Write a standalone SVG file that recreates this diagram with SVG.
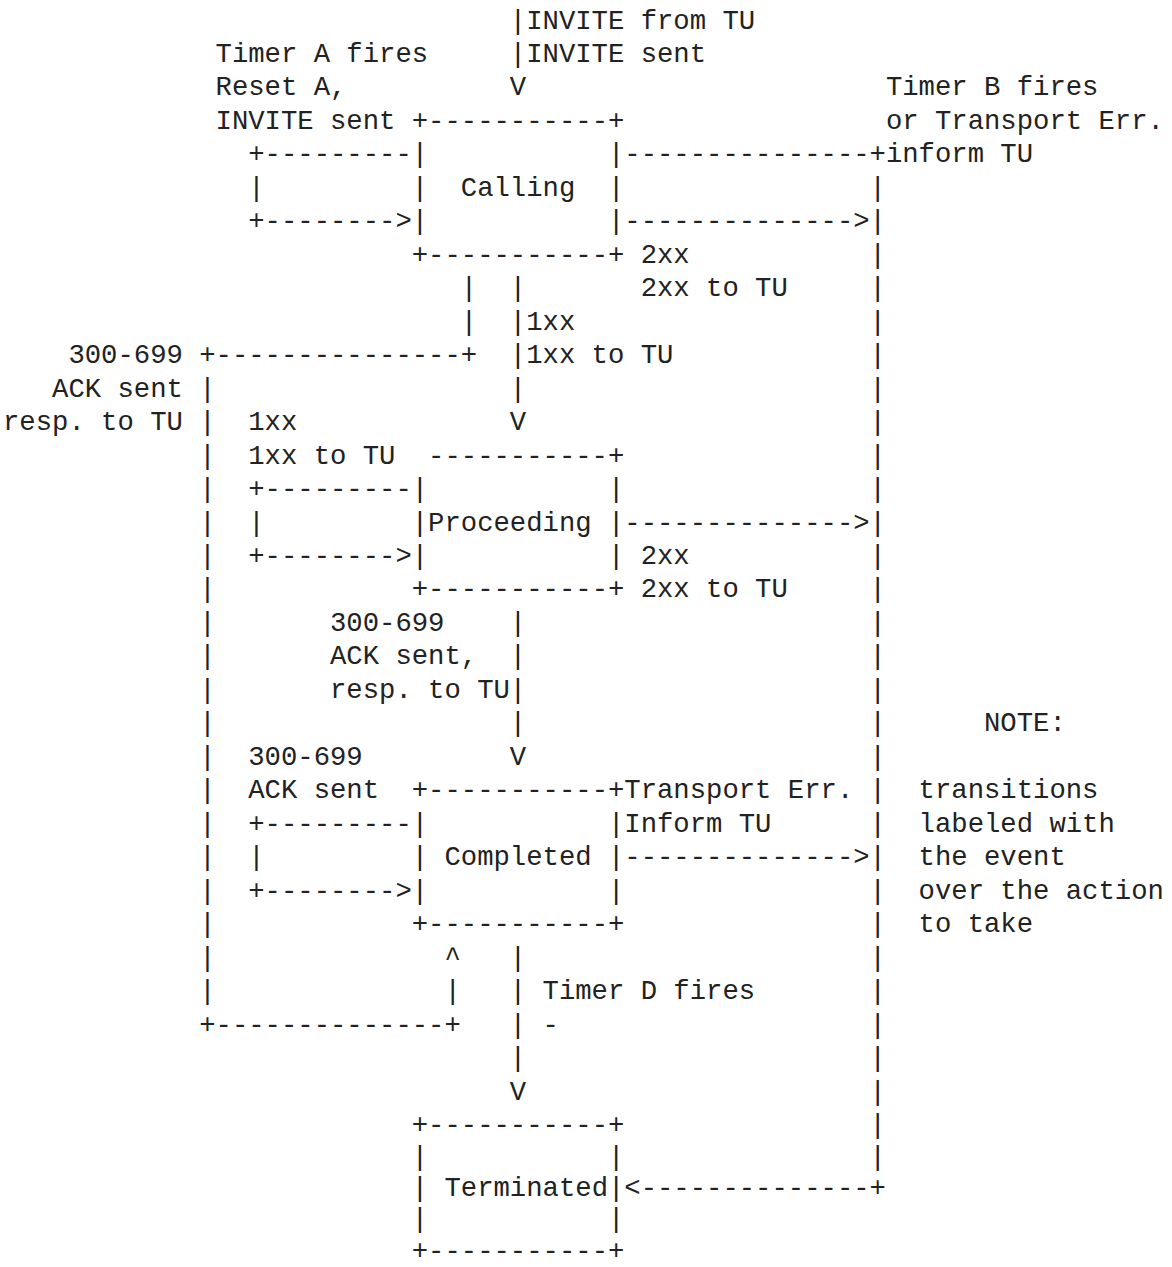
<svg xmlns="http://www.w3.org/2000/svg" width="1172" height="1267" viewBox="0 0 1172 1267" xml:space="preserve">
<style>
text{font-family:"Liberation Mono","Courier New",monospace;font-size:27.25px;fill:#222222;white-space:pre}
</style>
<rect width="1172" height="1267" fill="#ffffff"/>
<g id="node-calling">
<text><tspan x="411.75" y="128.91">+-----------+</tspan><tspan x="411.75" y="162.38">|           |</tspan><tspan x="411.75" y="195.85">|  Calling  |</tspan><tspan x="411.75" y="229.32">|           |</tspan><tspan x="411.75" y="262.79">+-----------+</tspan></text>
</g>
<g id="node-proceeding">
<text><tspan x="428.1" y="463.61">-----------+</tspan><tspan x="411.75" y="497.08">|           |</tspan><tspan x="411.75" y="530.55">|Proceeding |</tspan><tspan x="411.75" y="564.02">|           |</tspan><tspan x="411.75" y="597.49">+-----------+</tspan></text>
</g>
<g id="node-completed">
<text><tspan x="411.75" y="798.31">+-----------+</tspan><tspan x="411.75" y="831.78">|           |</tspan><tspan x="411.75" y="865.25">| Completed |</tspan><tspan x="411.75" y="898.72">|           |</tspan><tspan x="411.75" y="932.19">+-----------+</tspan></text>
</g>
<g id="node-terminated">
<text><tspan x="411.75" y="1133.01">+-----------+</tspan><tspan x="411.75" y="1165.2">|           |</tspan><tspan x="411.75" y="1196.3">| Terminated|</tspan><tspan x="411.75" y="1227.4">|           |</tspan><tspan x="411.75" y="1258.5">+-----------+</tspan></text>
</g>
<g id="connectors">
<text x="509.85" y="28.5">|</text>
<text x="509.85" y="61.97">|</text>
<text x="509.85" y="95.44">V</text>
<text x="248.25" y="162.38">+---------</text>
<text x="248.25" y="195.85">|</text>
<text x="248.25" y="229.32">+--------></text>
<text x="624.3" y="162.38">---------------+</text>
<text x="624.3" y="229.32">--------------></text>
<text x="869.55" y="195.85">|</text>
<text x="869.55" y="229.32">|</text>
<text x="869.55" y="262.79">|</text>
<text x="869.55" y="296.26">|</text>
<text x="869.55" y="329.73">|</text>
<text x="869.55" y="363.2">|</text>
<text x="869.55" y="396.67">|</text>
<text x="869.55" y="430.14">|</text>
<text x="869.55" y="463.61">|</text>
<text x="869.55" y="497.08">|</text>
<text x="869.55" y="530.55">|</text>
<text x="869.55" y="564.02">|</text>
<text x="869.55" y="597.49">|</text>
<text x="869.55" y="630.96">|</text>
<text x="869.55" y="664.43">|</text>
<text x="869.55" y="697.9">|</text>
<text x="869.55" y="731.37">|</text>
<text x="869.55" y="764.84">|</text>
<text x="869.55" y="798.31">|</text>
<text x="869.55" y="831.78">|</text>
<text x="869.55" y="865.25">|</text>
<text x="869.55" y="898.72">|</text>
<text x="869.55" y="932.19">|</text>
<text x="869.55" y="965.66">|</text>
<text x="869.55" y="999.13">|</text>
<text x="869.55" y="1032.6">|</text>
<text x="869.55" y="1066.07">|</text>
<text x="869.55" y="1099.54">|</text>
<text x="869.55" y="1133.01">|</text>
<text x="869.55" y="1165.2">|</text>
<text x="624.3" y="1196.3">&lt;--------------+</text>
<text x="509.85" y="296.26">|</text>
<text x="509.85" y="329.73">|</text>
<text x="509.85" y="363.2">|</text>
<text x="509.85" y="396.67">|</text>
<text x="509.85" y="430.14">V</text>
<text x="460.8" y="296.26">|</text>
<text x="460.8" y="329.73">|</text>
<text x="199.2" y="363.2">+---------------+</text>
<text x="199.2" y="396.67">|</text>
<text x="199.2" y="430.14">|</text>
<text x="199.2" y="463.61">|</text>
<text x="199.2" y="497.08">|</text>
<text x="199.2" y="530.55">|</text>
<text x="199.2" y="564.02">|</text>
<text x="199.2" y="597.49">|</text>
<text x="199.2" y="630.96">|</text>
<text x="199.2" y="664.43">|</text>
<text x="199.2" y="697.9">|</text>
<text x="199.2" y="731.37">|</text>
<text x="199.2" y="764.84">|</text>
<text x="199.2" y="798.31">|</text>
<text x="199.2" y="831.78">|</text>
<text x="199.2" y="865.25">|</text>
<text x="199.2" y="898.72">|</text>
<text x="199.2" y="932.19">|</text>
<text x="199.2" y="965.66">|</text>
<text x="199.2" y="999.13">|</text>
<text x="199.2" y="1032.6">+--------------+</text>
<text x="444.45" y="999.13">|</text>
<text x="444.45" y="965.66">^</text>
<text x="248.25" y="497.08">+---------</text>
<text x="248.25" y="530.55">|</text>
<text x="248.25" y="564.02">+--------></text>
<text x="624.3" y="530.55">--------------></text>
<text x="509.85" y="630.96">|</text>
<text x="509.85" y="664.43">|</text>
<text x="509.85" y="697.9">|</text>
<text x="509.85" y="731.37">|</text>
<text x="509.85" y="764.84">V</text>
<text x="248.25" y="831.78">+---------</text>
<text x="248.25" y="865.25">|</text>
<text x="248.25" y="898.72">+--------></text>
<text x="624.3" y="865.25">--------------></text>
<text x="509.85" y="965.66">|</text>
<text x="509.85" y="999.13">|</text>
<text x="509.85" y="1032.6">|</text>
<text x="509.85" y="1066.07">|</text>
<text x="509.85" y="1099.54">V</text>
</g>
<g id="labels">
<text x="526.2" y="28.5">INVITE from TU</text>
<text x="215.55" y="61.97">Timer A fires</text>
<text x="526.2" y="61.97">INVITE sent</text>
<text x="215.55" y="95.44">Reset A,</text>
<text x="885.9" y="95.44">Timer B fires</text>
<text x="215.55" y="128.91">INVITE sent</text>
<text x="885.9" y="128.91">or Transport Err.</text>
<text x="885.9" y="162.38">inform TU</text>
<text x="640.65" y="262.79">2xx</text>
<text x="640.65" y="296.26">2xx to TU</text>
<text x="526.2" y="329.73">1xx</text>
<text x="68.4" y="363.2">300-699</text>
<text x="526.2" y="363.2">1xx to TU</text>
<text x="52.05" y="396.67">ACK sent</text>
<text x="3" y="430.14">resp. to TU</text>
<text x="248.25" y="430.14">1xx</text>
<text x="248.25" y="463.61">1xx to TU</text>
<text x="640.65" y="564.02">2xx</text>
<text x="640.65" y="597.49">2xx to TU</text>
<text x="330" y="630.96">300-699</text>
<text x="330" y="664.43">ACK sent,</text>
<text x="330" y="697.9">resp. to TU</text>
<text x="984" y="731.37">NOTE:</text>
<text x="248.25" y="764.84">300-699</text>
<text x="248.25" y="798.31">ACK sent</text>
<text x="624.3" y="798.31">Transport Err.</text>
<text x="624.3" y="831.78">Inform TU</text>
<text x="918.6" y="798.31">transitions</text>
<text x="918.6" y="831.78">labeled with</text>
<text x="918.6" y="865.25">the event</text>
<text x="918.6" y="898.72">over the action</text>
<text x="918.6" y="932.19">to take</text>
<text x="542.55" y="999.13">Timer D fires</text>
<text x="542.55" y="1032.6">-</text>
</g>
</svg>
